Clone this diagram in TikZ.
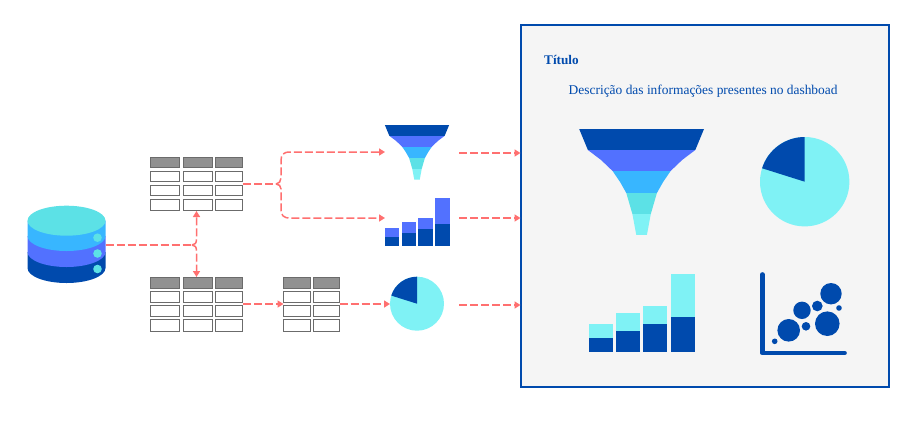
\documentclass[tikz,border=0pt]{standalone}
\usepackage{fontspec}
\setmainfont{Liberation Serif}
\usetikzlibrary{arrows.meta,calc}
\definecolor{navy}{HTML}{004AAD}
\definecolor{royal}{HTML}{5271FF}
\definecolor{sky}{HTML}{38B6FF}
\definecolor{teal}{HTML}{5CE1E6}
\definecolor{aqua}{HTML}{7FF2F5}
\definecolor{linkred}{HTML}{FF7070}
\definecolor{panelbg}{HTML}{F5F5F5}
\tikzset{
  holder/.style={inner sep=0pt,outer sep=0pt,minimum width=#1},
  linkline/.style={draw=linkred,line width=1.5pt,dash pattern=on 8pt off 3pt,line cap=butt},
  linkarrow/.style={linkline,-{Triangle[length=6pt,width=7pt,fill=linkred,sep=0pt]}},
  headcell/.style={fill=black!43,draw=black!58,line width=1pt},
  bodycell/.style={fill=white,draw=black!58,line width=1pt},
  paneltext/.style={text=navy,inner sep=0pt,anchor=base west},
}
\newcommand\tablerows[2]{%
  \foreach \xa/\xb in {#1}{%
    \foreach \ya/\yb/\sty in {#2}{%
      \path[\sty] (\xa,\ya) rectangle (\xb,\yb);
    }
  }%
}
\newcommand\funnelshape[3]{%
  \begin{scope}[shift={(#1,#2)},scale=#3]
    \clip (-62.4,0) -- (-53.7,21) -- (-40.5,31) -- (-29,42) -- (-21.5,53) -- (-15.3,64) -- (-9.2,85) -- (-5.3,106)
       -- (5.3,106) -- (9.2,85) -- (15.3,64) -- (21.5,53) -- (29,42) -- (40.5,31) -- (53.7,21) -- (62.4,0) -- cycle;
    \fill[navy] (-70,0) rectangle (70,21);
    \fill[royal] (-70,21) rectangle (70,42);
    \fill[sky] (-70,42) rectangle (70,64);
    \fill[teal] (-70,64) rectangle (70,85);
    \fill[aqua] (-70,85) rectangle (70,106);
  \end{scope}%
}
\newcommand\pieshape[3]{%
  \fill[aqua] (#1,#2) circle[radius=#3];
  \fill[navy] (#1,#2) -- ($(#1,#2)+(0,-#3)$) arc[start angle=-90,end angle=-162.5,radius=#3] -- cycle;
}
\begin{document}
\begin{tikzpicture}[x=1pt,y=-1pt]
\useasboundingbox (0,0) rectangle (906,424);
\fill[white] (0,0) rectangle (906,424);

\node[holder=78pt,minimum height=62pt] (db) at (66.5,252) {};
\node[holder=93pt,minimum height=54pt] (tableA) at (196.5,184) {};
\node[holder=93pt,minimum height=54pt] (tableB) at (196.5,304) {};
\node[holder=56pt,minimum height=54pt] (tableC) at (311.5,304) {};
\node[holder=64pt,minimum height=55pt] (smallfunnel) at (417,152) {};
\node[holder=64pt,minimum height=48pt] (smallbars) at (417,221.8) {};
\node[holder=54pt,minimum height=54pt] (smallpie) at (417,304) {};
\node[holder=368pt,minimum height=362pt,draw=navy,fill=panelbg,line width=2pt] (panel) at (704.5,206) {};

% database
\fill[navy] (27.5,252) -- (27.5,268) arc[start angle=180,end angle=0,x radius=39,y radius=15] -- (105.5,252) -- cycle;
\fill[royal] (27.5,236) -- (27.5,252) arc[start angle=180,end angle=0,x radius=39,y radius=15] -- (105.5,236) -- cycle;
\fill[sky] (27.5,220.7) -- (27.5,236) arc[start angle=180,end angle=0,x radius=39,y radius=15] -- (105.5,220.7) -- cycle;
\fill[teal] (66.5,220.7) ellipse[x radius=39,y radius=15];
\foreach \yy in {237.7,253.5,269}{\fill[teal] (97.5,\yy) circle[radius=4.3];}

% tables
\tablerows{150.5/179.5,183/212,215.5/242.5}{157.5/167.5/headcell,171.5/181.5/bodycell,185.5/195.5/bodycell,199.5/210.5/bodycell}
\tablerows{150.5/179.5,183/212,215.5/242.5}{277.5/288/headcell,291.5/302/bodycell,305.5/316/bodycell,319.5/331/bodycell}
\tablerows{283.5/310,313.5/339.5}{277.5/288/headcell,291.5/302/bodycell,305.5/316/bodycell,319.5/331/bodycell}

% small charts
\funnelshape{417}{125}{0.515}
\foreach \xa/\xb/\yt/\ym in {385/399.3/228.3/237,401.7/416.3/222/232.7,418/433/217.7/228.7,435/449.7/198/224}{
  \fill[royal] (\xa,\yt) rectangle (\xb,\ym);
  \fill[navy] (\xa,\ym) rectangle (\xb,245.7);
}
\pieshape{417}{303.7}{27}

% connectors
\coordinate (joinA) at (192,245);
\coordinate (joinB) at (276,184);
\coordinate (smallbarsin) at (385,218);
\coordinate (outA) at (459,153);
\coordinate (outB) at (459,218);
\coordinate (outC) at (459,305);
\draw[linkline] (db.east |- joinA) -- (joinA);
\draw[linkarrow] (joinA) .. controls (195,245) and (196.5,243) .. (196.5,239) -- (tableA.south);
\draw[linkarrow] (joinA) .. controls (195,245) and (196.5,247) .. (196.5,251) -- (tableB.north);
\draw[linkline] (tableA.east) -- (joinB);
\draw[linkarrow] (joinB) .. controls (279,184) and (281,181) .. (281,178) -- (281,161) .. controls (281,155) and (283,152) .. (290,152) -- (smallfunnel.west);
\draw[linkarrow] (joinB) .. controls (279,184) and (281,186) .. (281,189) -- (281,209) .. controls (281,215) and (283,218) .. (290,218) -- (smallbarsin);
\draw[linkarrow] (tableB.east) -- (tableC.west);
\draw[linkarrow] (tableC.east) -- (smallpie.west);
\draw[linkarrow] (outA) -- (panel.west |- outA);
\draw[linkarrow] (outB) -- (panel.west |- outB);
\draw[linkarrow] (outC) -- (panel.west |- outC);

% panel contents
\node[paneltext,font=\fontsize{13.2}{15}\selectfont\bfseries] (title) at (544,64) {Título};
\node[paneltext,font=\fontsize{13.43}{15}\selectfont] (subtitle) at (568.5,94) {Descrição das informações presentes no dashboad};
\funnelshape{641.6}{129}{1}
\pieshape{804.7}{181.7}{44.7}
\foreach \xa/\xb/\yt/\ym in {589/613/324/338,616/640/313/331,643.3/667.3/306/323.7,671/695/274/317}{
  \fill[aqua] (\xa,\yt) rectangle (\xb,\ym);
  \fill[navy] (\xa,\ym) rectangle (\xb,352.3);
}
\draw[navy,line width=4.7pt,line cap=round,line join=round] (762.4,274.5) -- (762.4,353) -- (844.5,353);
\foreach \cx/\cy/\cr in {831/293.7/10.7,802/310.3/8.7,817.3/306/5.3,839/308/2.8,827.3/323.7/12.3,806/326.3/4.3,788.7/330.3/11.3,774.7/341.3/2.8}{
  \fill[navy] (\cx,\cy) circle[radius=\cr];
}
\end{tikzpicture}
\end{document}
